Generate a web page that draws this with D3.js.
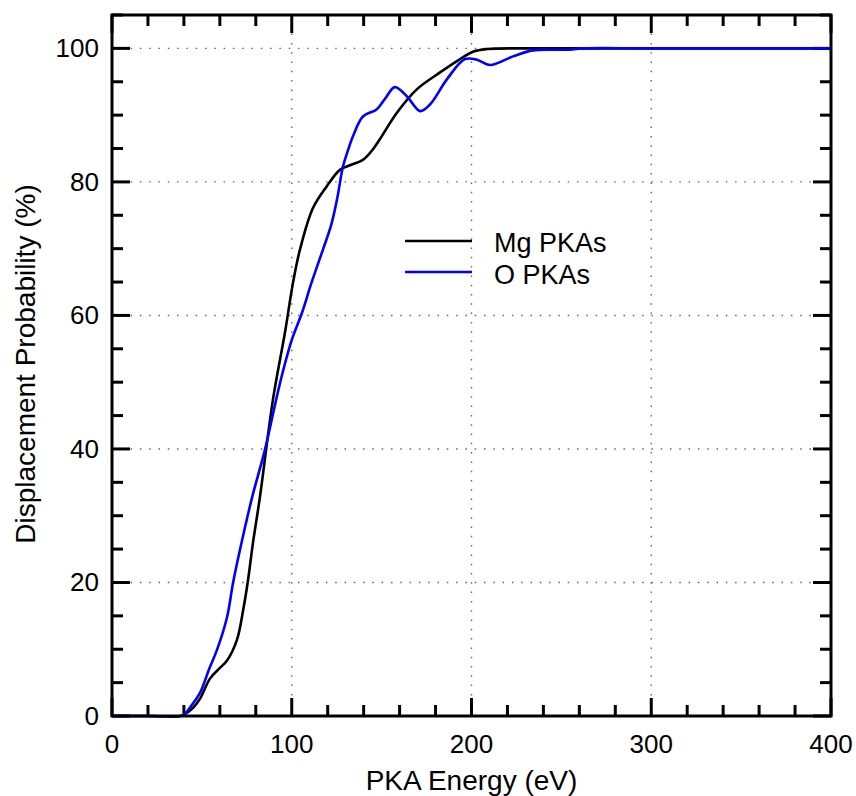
<!DOCTYPE html>
<html><head><meta charset="utf-8">
<script src="https://cdn.jsdelivr.net/npm/d3@7"></script>
<style>body{margin:0;background:#fff}text{font-family:"Liberation Sans",Arial,sans-serif}</style>
</head><body><svg id="c" width="856" height="796"></svg>
<script>
const xTicks=[0,100,200,300,400];
const yTicks=[0,20,40,60,80,100];
const seriesNames=["Mg PKAs","O PKAs"];
const seriesColors=["#000000","#0000ff"];
const mgE=[0,20,38,40,45,49,54.5,60,64,69.5,73,75.7,78.4,82.3,89.6,96.2,100.7,104.6,111.8,119.6,126.8,132.4,139.6,145.2,149,158.6,169.7,182.5,191.9,200.8,208.6,230,260,300,400];
const mgP=[0,0,0,0.2,1.2,2.6,5.6,7.2,8.3,11.4,15.9,20.4,25.9,32.8,47.5,57.4,64.9,69.9,76.1,79.4,81.8,82.5,83.3,84.9,86.4,90.4,93.9,96.4,98.1,99.5,99.9,100,100,100,100];
const oE=[0,20,38,40,44,49,54,58.4,64,67.3,71.2,77.9,85.1,93.5,100.1,105.7,111,117.4,122,125.2,128.5,131,134,139.6,147.4,152,157.4,164.1,171.4,176.9,186.4,196.4,203,210.3,223.1,234.2,253,262,300,400];
const oP=[0,0,0,0.2,1.5,3.5,7,9.9,14.8,19.9,24.9,32.7,39.9,49.9,56.4,60.4,64.9,69.9,73.6,77.4,82.3,84.5,86.8,89.8,90.9,92.5,94.2,92.8,90.6,91.6,95.4,98.4,98.3,97.5,98.8,99.7,99.8,100,100,100];

const svg=d3.select("#c");
const L=112,R=831,T=15,B=716;
const x=d3.scaleLinear().domain([0,400]).range([L,R]);
const y=d3.scaleLinear().domain([0,105]).range([B,T]);

// grid
const g=svg.append("g");
g.selectAll(".gx").data(xTicks.slice(1,-1)).join("line")
 .attr("x1",d=>x(d)).attr("x2",d=>x(d)).attr("y1",T).attr("y2",B)
 .attr("stroke","#666").attr("stroke-width",1.4).attr("stroke-dasharray","1.5,7.8");
g.selectAll(".gy").data(yTicks.slice(1)).join("line")
 .attr("y1",d=>y(d)).attr("y2",d=>y(d)).attr("x1",L).attr("x2",R)
 .attr("stroke","#666").attr("stroke-width",1.4).attr("stroke-dasharray","1.5,7.8");

// ticks
const xMinor=d3.range(0,401,20), yMinor=d3.range(0,106,5);
function tickLen(v,step){return (v%step===0)?18:11;}
const tk=svg.append("g").attr("stroke","#000").attr("stroke-width",3);
xMinor.forEach(v=>{
  const l=tickLen(v,100);
  tk.append("line").attr("x1",x(v)).attr("x2",x(v)).attr("y1",B).attr("y2",B-l);
  tk.append("line").attr("x1",x(v)).attr("x2",x(v)).attr("y1",T).attr("y2",T+l);
});
yMinor.forEach(v=>{
  const l=tickLen(v,20);
  tk.append("line").attr("y1",y(v)).attr("y2",y(v)).attr("x1",L).attr("x2",L+l);
  tk.append("line").attr("y1",y(v)).attr("y2",y(v)).attr("x1",R).attr("x2",R-l);
});

// curves
const line=d3.line().x(d=>x(d[0])).y(d=>y(d[1])).curve(d3.curveCatmullRom.alpha(0.5));
const mg=mgE.map((e,i)=>[e,mgP[i]]), o=oE.map((e,i)=>[e,oP[i]]);
svg.append("path").attr("d",line(mg)).attr("fill","none").attr("stroke",seriesColors[0]).attr("stroke-width",2.6);
svg.append("path").attr("d",line(o)).attr("fill","none").attr("stroke",seriesColors[1]).attr("stroke-width",2.6);

// frame
svg.append("rect").attr("x",L).attr("y",T).attr("width",R-L).attr("height",B-T)
 .attr("fill","none").attr("stroke","#000").attr("stroke-width",3);

// tick labels
svg.append("g").selectAll("text").data(xTicks).join("text")
 .attr("x",d=>x(d)).attr("y",753).attr("text-anchor","middle").attr("font-size",26).text(d=>d);
svg.append("g").selectAll("text").data(yTicks).join("text")
 .attr("x",99).attr("y",d=>y(d)+9).attr("text-anchor","end").attr("font-size",26).text(d=>d);

// axis titles
svg.append("text").attr("x",(L+R)/2).attr("y",790).attr("text-anchor","middle").attr("font-size",28).text("PKA Energy (eV)");
svg.append("text").attr("transform",`translate(35,${364}) rotate(-90)`).attr("text-anchor","middle").attr("font-size",28).text("Displacement Probability (%)");

// legend
seriesNames.forEach((n,i)=>{
  const yy=241+i*31;
  svg.append("line").attr("x1",405).attr("x2",472).attr("y1",yy).attr("y2",yy).attr("stroke",seriesColors[i]).attr("stroke-width",2.6);
  svg.append("text").attr("x",494).attr("y",252+i*32).attr("font-size",27).text(n);
});
</script></body></html>
